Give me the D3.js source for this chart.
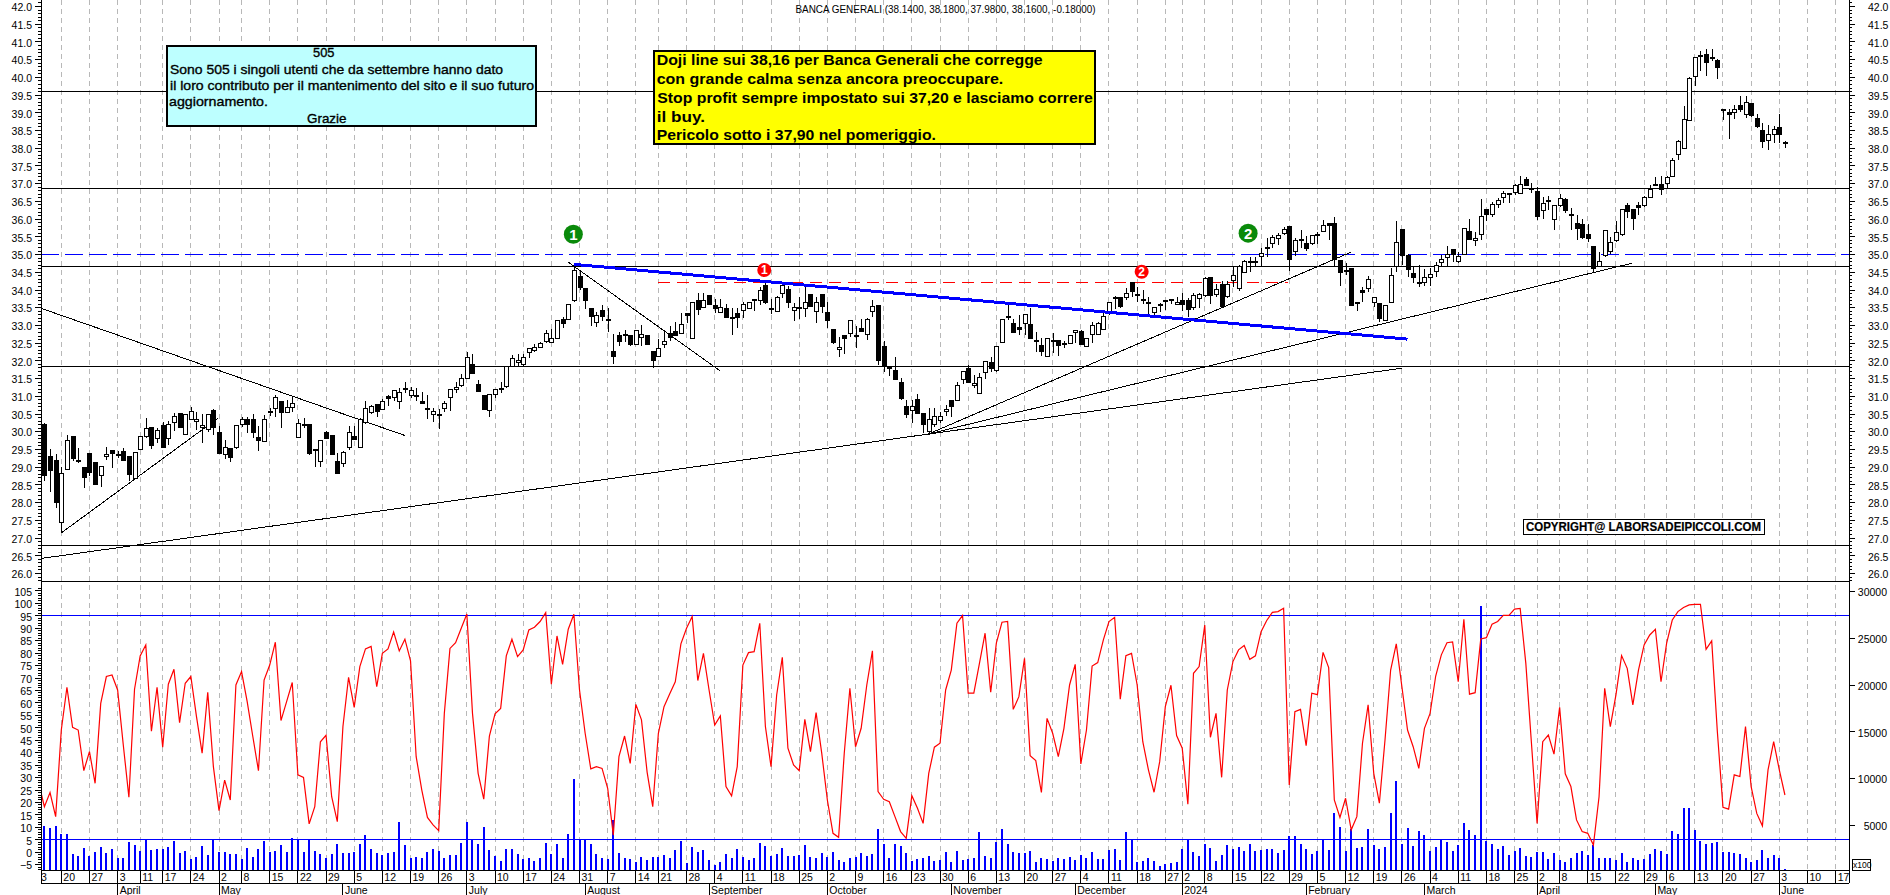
<!DOCTYPE html>
<html>
<head>
<meta charset="utf-8">
<title>Banca Generali</title>
<script src="https://cdn.jsdelivr.net/npm/d3@7"></script>
<style>
  html, body { margin: 0; padding: 0; background: #fff; overflow: hidden; }
  text { font-family: "Liberation Sans", Arial, sans-serif; fill: #000; }
</style>
</head>
<body>
<div id="chart"></div>
<script>
// first candle sits 3 sessions before Mar 20 2023 (session 0)
const firstSession = -3;

const opens = [
  30.2,29.3,29.18,27.43,28.93,29.84,29.18,28.99,29.38,29.11,
  28.76,29.29,29.46,29.35,29.44,29.29,28.68,29.49,29.86,30.11,
  29.8,30.17,29.8,30.24,30.51,29.92,30.34,30.27,30.1,30.06,
  30.58,29.96,29.35,29.51,29.54,30.18,30.34,30.34,29.83,29.72,
  30.56,30.65,30.85,30.53,30.68,29.82,30.2,30.18,29.49,29.15,
  29.97,29.89,29.15,29.1,29.55,29.86,29.55,30.25,30.53,30.75,
  30.62,30.98,30.95,30.83,31.22,31.01,31.0,30.85,30.65,30.48,
  30.48,30.65,30.95,31.18,31.28,31.5,31.88,31.33,31.0,30.58,
  31.04,31.22,31.26,31.84,31.93,31.89,32.22,32.27,32.37,32.53,
  32.5,32.62,33.14,33.14,33.68,34.36,34.03,33.45,33.06,33.42,
  33.14,32.26,32.69,32.74,32.71,32.45,32.65,32.69,32.26,32.1,
  32.44,32.76,32.82,32.76,33.31,32.61,33.69,33.49,33.82,33.55,
  33.35,33.47,33.22,33.33,33.41,33.47,33.71,33.69,34.12,33.47,
  33.38,33.89,33.99,33.41,33.48,33.47,33.86,33.38,33.86,33.36,
  32.87,32.31,32.69,32.76,32.71,32.9,32.73,33.38,33.54,32.38,
  31.82,31.71,31.38,30.71,30.58,30.91,30.51,29.99,30.2,30.3,
  30.55,30.88,30.88,31.47,31.78,31.28,31.07,31.66,31.94,31.72,
  32.51,33.25,33.05,32.94,33.05,33.02,32.55,32.42,32.12,32.55,
  32.57,32.49,32.48,32.78,32.82,32.4,32.74,32.72,32.87,33.37,
  33.78,33.78,33.77,34.19,33.85,33.72,33.63,33.35,33.57,33.7,
  33.72,33.58,33.68,33.7,33.5,33.75,33.83,34.34,33.87,34.13,
  33.8,34.25,34.03,34.48,34.79,34.79,34.93,35.19,35.3,35.44,
  35.59,35.78,35.07,35.42,35.3,35.3,35.54,35.63,35.87,35.87,
  34.83,34.55,34.6,33.64,33.96,34.04,33.64,33.6,33.12,33.64,
  34.66,35.7,34.97,34.46,34.2,34.19,34.34,34.5,34.77,34.91,
  35.13,34.79,34.99,35.65,35.38,35.54,36.26,36.12,36.4,36.6,
  36.71,36.73,36.71,37.09,36.85,36.76,36.23,36.5,35.98,36.36,
  36.55,36.13,35.87,35.84,35.56,35.21,34.65,34.97,35.07,35.38,
  35.54,36.37,36.26,36.37,36.37,36.6,36.96,36.97,36.99,37.18,
  37.8,37.98,38.77,40.02,40.6,40.62,40.55,40.45,39.09,39.0,
  39.0,39.2,38.95,39.25,38.83,38.48,38.2,38.37,38.58,38.14
];
const highs = [
  30.22,29.5,29.36,28.98,29.9,29.84,29.52,28.99,29.4,29.11,
  29.0,29.55,29.46,29.44,29.52,29.29,29.4,29.86,30.37,30.11,
  30.08,30.26,30.3,30.51,30.51,30.48,30.68,30.55,30.48,30.48,
  30.62,30.15,29.76,29.51,30.16,30.41,30.41,30.49,30.15,30.45,
  30.65,31.03,30.85,30.88,31.0,30.34,30.37,30.18,29.49,29.75,
  30.01,29.89,29.4,29.45,30.15,30.15,30.38,30.84,30.74,30.75,
  30.92,31.03,31.15,31.22,31.38,31.26,31.21,31.12,31.02,30.65,
  30.62,30.84,31.2,31.4,31.61,32.23,32.17,31.45,31.0,31.04,
  31.18,31.38,31.82,32.15,32.18,32.18,32.33,32.46,32.53,32.86,
  32.88,33.12,33.23,33.58,34.65,34.52,34.03,33.45,33.37,33.56,
  33.49,32.75,32.81,32.86,32.71,32.85,33.0,32.69,32.26,32.6,
  32.83,32.97,33.09,33.33,33.31,33.64,33.91,33.89,33.85,33.72,
  33.72,33.59,33.47,33.47,33.65,33.64,33.71,34.06,34.18,33.73,
  33.83,34.1,34.1,33.63,33.78,34.06,33.86,33.8,33.86,33.65,
  32.87,32.67,32.69,33.12,32.97,33.16,33.19,33.71,33.54,32.54,
  31.85,32.09,31.49,30.88,30.88,31.05,30.51,30.65,30.67,30.55,
  30.74,30.88,31.4,31.69,31.87,31.59,31.64,31.96,32.1,32.4,
  33.16,33.56,33.16,33.28,33.3,33.47,32.81,32.62,32.61,32.76,
  32.57,32.54,32.7,32.84,32.86,32.61,33.09,33.09,33.37,33.64,
  33.82,33.8,34.03,34.22,34.06,33.98,33.8,33.49,33.63,33.7,
  33.72,33.8,33.89,33.75,33.89,33.89,34.36,34.34,34.16,34.24,
  34.24,34.66,34.69,34.83,34.91,34.91,35.16,35.44,35.54,35.59,
  35.77,35.78,35.44,35.68,35.51,35.51,35.63,35.96,35.87,36.04,
  34.83,34.74,34.6,33.64,34.06,34.38,33.8,33.63,33.56,34.61,
  35.93,35.7,35.0,34.65,34.69,34.57,34.6,34.79,34.97,35.23,
  35.13,35.07,35.73,36.0,35.61,36.55,36.26,36.48,36.57,36.78,
  36.73,36.98,37.2,37.18,37.0,36.9,36.62,36.63,36.37,36.69,
  36.57,36.29,36.1,35.98,35.85,35.21,35.07,35.66,35.47,35.92,
  36.26,36.43,36.26,36.48,36.65,36.95,37.18,37.2,37.19,37.7,
  38.22,39.18,39.99,40.55,40.72,40.8,40.78,40.5,39.09,39.09,
  39.21,39.46,39.47,39.25,38.94,38.71,38.64,38.6,38.95,38.18
];
const lows = [
  28.6,28.28,27.83,27.14,28.93,29.17,29.1,28.41,28.74,28.5,
  28.44,29.19,28.97,29.24,29.17,28.6,28.65,29.49,29.8,29.5,
  29.68,29.54,29.61,30.0,30.1,29.92,30.34,30.04,29.68,29.99,
  29.9,29.35,29.23,29.13,29.5,30.13,29.96,29.82,29.43,29.72,
  30.43,30.41,30.1,30.51,30.53,29.82,30.1,29.33,29.0,29.0,
  29.8,29.34,28.81,29.0,29.47,29.76,29.55,30.21,30.49,30.39,
  30.62,30.7,30.84,30.63,31.07,30.93,30.86,30.79,30.35,30.27,
  30.07,30.53,30.58,31.07,31.26,31.47,31.64,31.12,30.6,30.41,
  30.93,31.09,31.21,31.84,31.84,31.85,32.06,32.25,32.37,32.5,
  32.48,32.62,32.9,33.14,33.65,34.0,33.45,32.97,32.95,33.12,
  32.81,31.9,32.4,32.53,32.41,32.45,32.41,32.44,31.78,32.1,
  32.34,32.56,32.71,32.76,33.06,32.61,33.28,33.49,33.58,33.33,
  33.33,33.21,32.73,32.9,33.19,33.47,33.39,33.56,33.59,33.31,
  33.38,33.77,33.47,33.12,33.17,33.23,33.52,33.06,33.33,32.92,
  32.45,32.1,32.18,32.65,32.34,32.81,32.58,33.21,31.87,31.68,
  31.55,31.45,30.88,30.38,30.22,30.51,29.96,29.9,30.13,30.24,
  30.44,30.41,30.88,31.32,31.35,31.21,31.04,31.47,31.68,31.68,
  32.51,33.14,32.76,32.72,32.72,32.59,32.25,32.12,32.12,32.2,
  32.12,32.34,32.48,32.48,32.42,32.4,32.48,32.72,32.86,33.28,
  33.44,33.47,33.69,33.8,33.66,33.59,33.3,33.28,33.37,33.42,
  33.58,33.58,33.4,33.23,33.42,33.47,33.8,33.59,33.78,33.53,
  33.75,34.08,33.97,34.46,34.48,34.63,34.65,34.91,35.16,35.26,
  35.54,34.53,34.95,35.16,35.1,35.26,35.28,35.63,35.4,34.66,
  34.1,34.41,33.54,33.4,33.66,33.94,33.52,33.09,33.1,33.64,
  34.5,34.69,34.34,34.18,34.06,34.1,34.1,34.36,34.65,34.65,
  34.79,34.76,34.99,35.4,35.24,35.4,35.94,36.05,36.29,36.43,
  36.45,36.67,36.71,36.94,36.71,35.96,35.98,36.23,35.68,36.34,
  36.15,35.68,35.4,35.43,35.34,34.46,34.65,34.93,35.0,35.35,
  35.5,36.01,35.68,36.1,36.34,36.57,36.92,36.67,36.85,37.18,
  37.65,37.98,38.77,39.74,40.17,40.02,40.45,39.94,38.78,38.25,
  38.8,39.02,38.83,38.88,38.55,37.98,37.94,38.13,38.13,37.98
];
const closes = [
  28.75,28.9,27.99,28.81,29.75,29.23,29.14,28.69,28.83,28.5,
  29.0,29.35,29.37,29.32,29.17,28.78,29.4,29.86,30.08,29.6,
  30.02,29.54,30.19,30.41,30.1,30.48,30.55,30.34,30.17,30.48,
  30.1,29.37,29.54,29.26,30.16,30.33,30.19,29.96,29.74,30.34,
  30.53,30.95,30.53,30.67,30.79,30.23,30.17,29.37,29.46,29.75,
  29.8,29.34,28.81,29.4,29.97,29.76,30.34,30.65,30.7,30.56,
  30.85,30.93,31.15,31.1,31.18,31.15,30.98,30.79,30.62,30.55,
  30.45,30.78,31.18,31.24,31.5,32.08,31.64,31.12,30.6,31.04,
  31.18,31.2,31.82,32.06,31.99,32.08,32.33,32.37,32.48,32.75,
  32.62,33.12,33.05,33.58,34.55,34.05,33.68,33.25,33.28,33.25,
  33.12,32.1,32.53,32.71,32.45,32.85,32.74,32.44,32.01,32.33,
  32.54,32.65,32.71,33.0,33.27,33.64,33.43,33.69,33.58,33.45,
  33.5,33.21,33.19,33.21,33.58,33.64,33.69,33.97,33.64,33.45,
  33.77,34.1,33.63,33.5,33.46,33.63,33.52,33.64,33.52,33.12,
  32.5,32.37,32.62,33.12,32.69,32.81,33.14,33.52,32.01,31.82,
  31.78,31.46,30.92,30.46,30.71,30.51,30.18,30.32,30.43,30.43,
  30.62,30.71,31.28,31.69,31.37,31.35,31.52,31.96,31.78,32.4,
  33.16,33.23,32.78,32.86,33.3,32.61,32.53,32.25,32.61,32.52,
  32.41,32.47,32.7,32.84,32.44,32.61,32.99,33.03,33.25,33.64,
  33.75,33.53,33.89,33.94,33.83,33.7,33.61,33.49,33.55,33.67,
  33.69,33.63,33.59,33.44,33.82,33.85,34.3,33.83,33.99,33.53,
  34.15,34.39,34.66,34.79,34.77,34.77,35.02,35.16,35.47,35.51,
  35.7,34.85,35.39,35.38,35.17,35.51,35.51,35.81,35.82,34.86,
  34.48,34.53,33.56,33.61,33.92,34.29,33.78,33.17,33.56,34.39,
  35.33,34.97,34.57,34.33,34.17,34.34,34.43,34.67,34.85,34.99,
  34.99,34.93,35.73,35.42,35.45,36.05,36.12,36.4,36.51,36.71,
  36.69,36.94,36.96,36.94,36.83,36.06,36.43,36.48,36.37,36.56,
  36.23,36.1,35.73,35.46,35.45,34.6,34.79,35.66,35.33,35.6,
  36.26,36.2,36.0,36.31,36.59,36.83,36.94,36.83,37.17,37.64,
  38.19,38.8,39.96,40.55,40.58,40.41,40.53,40.26,39.07,38.94,
  39.09,39.07,39.27,38.9,38.6,38.17,38.36,38.52,38.36,38.16
];

// oscillator starts one session earlier, that point is clipped by the axis
const oscFirstSession = -4;
const oscValues = [
  27.5,18.1,23.8,14.1,48.9,66.1,50,48.9,32.6,40.2,
  27.5,59.6,70.4,71,65,43,21.9,65.3,78.7,83.1,
  48.4,66.1,42,67.3,73.3,51.9,67.7,70.4,54.3,39.6,
  64.1,34.2,16.5,28.8,20.8,67,72.4,60.3,46.3,32.6,
  69,75,84.2,52.7,60.3,68,30.9,29.9,11.2,18.1,
  44.2,46.8,22.1,12.1,50.3,70.1,58,74.4,81.5,82.5,
  66.3,79.7,81.5,88.3,80.7,85.4,76.7,38.2,24.8,13.8,
  10.8,8.5,55.6,81.7,84,89.8,95.5,55.6,31.5,21.1,
  46.5,55.4,57.6,78.7,85.4,78.4,81.1,89.1,90.2,92.5,
  96.1,67.3,86.7,75.3,89.4,95.4,65,47.6,33.3,34.2,
  33.5,25.5,6.7,38.2,46.5,35.5,59.2,53,32,18.1,
  47.6,58.3,63.4,68.3,83.5,89.8,94.5,68.8,79.7,65,
  50.9,54.6,26.2,22.5,34.2,75,80,80.4,91.8,50.3,
  34.2,63,78.1,41.6,34.9,32.6,53.2,40.2,55.9,39.6,
  20.8,7.4,5.8,39.6,65.7,42.2,49.6,67,80.7,24.2,
  21.1,20.1,14.1,8.1,5.4,22.5,17.5,11.4,31.5,42,
  43.6,65,73,91.8,94.9,63.7,63.7,75.7,87.8,64.1,
  83.8,92.2,92.5,57.2,62.3,77.7,38.6,36.6,23.8,53.6,
  47.6,38.2,49.6,67,75.3,35.3,48.9,74.6,76,85.1,
  92.5,94.2,61.3,78.8,79.7,67,44.2,32.9,23.9,36.2,
  58.3,66.9,46.7,41.6,19.1,71.7,74.4,91.1,46,55.6,
  29.9,65,76.4,81.1,82.9,77.3,78.7,88.4,92.9,96.2,
  96.5,97.8,26.8,56.3,57.2,42.6,63.7,63.1,80.1,74,
  20.8,13.8,21.5,8.8,14.1,43.6,59,31.5,19.5,44.9,
  73,83.5,66.3,48.9,42.2,33.5,49.6,55.6,70.6,79.1,
  84,84.3,68.3,93.4,63.3,63.9,85.5,86,91.4,92.5,
  95,95,97.5,97.8,75.7,43.6,11.4,44.2,46.9,39.2,
  58,31.3,26.2,12.8,8.1,7.4,2.7,22.1,65.7,50.3,
  63,78.8,73.7,59,73,83.1,87.1,89.4,68.3,83.8,
  93.1,96.5,98.1,99.2,99.4,99.4,81.3,84.7,48.3,17.9,
  17.1,30.9,30.2,50.3,26.2,15.4,10.4,32.9,44.2,32.9,22.8
];

const volumes = [
  4890,4640,4890,4040,4040,1870,1690,2540,1690,2080,
  2610,1970,2440,1440,1480,3220,2860,2260,3400,2330,
  2400,2400,2610,3260,2010,2260,1330,1620,2720,1800,
  3500,2120,2120,1870,1870,1330,2540,1620,2400,3260,
  2120,2260,2830,2080,3610,3470,2120,3360,2190,1870,
  1510,1870,2930,2010,1970,2080,2970,3900,2440,1970,
  1800,1970,2080,5320,2860,1480,1580,1480,2080,2440,
  2220,1480,1760,1760,3080,5320,3400,2970,4790,2290,
  1690,1120,2400,2440,1870,1330,1440,1190,1480,3080,
  1870,2970,1480,4000,9910,3470,3470,2970,1870,1440,
  1330,5530,2010,1480,1370,1010,1550,1260,1580,1550,
  1760,1440,2330,3260,940,2650,2080,2290,1230,730,
  1050,1870,1440,2400,1580,1260,1440,3040,2790,1690,
  1870,2540,1690,1690,1760,2830,1580,1480,2010,1550,
  2120,1260,1010,1480,1550,2010,1690,1870,4570,2930,
  1480,2970,2790,1970,1160,1330,1440,1690,1160,1230,
  2080,1050,2190,1230,1330,1480,4250,1690,1440,3150,
  4570,2930,2120,1970,1970,2190,1010,1440,1370,1120,
  1440,1330,1580,1260,1760,1440,2120,1370,1330,2290,
  2440,1260,4220,3400,1050,1160,1440,1120,660,840,
  910,1010,2400,3360,2120,1650,2930,2540,1160,1760,
  2830,2440,2610,2220,2930,2190,2330,2440,2400,1970,
  2290,3830,3790,2930,2400,1870,2220,3470,2290,6280,
  4750,2190,4540,2540,2610,4540,2830,2440,2650,6250,
  9700,2970,4680,2720,4320,3930,2220,2610,3400,3150,
  2220,2830,5250,4430,3900,28400,3330,2930,2400,2720,
  1760,2190,2540,1690,1580,2150,2120,1330,1970,1260,
  1050,1440,1970,2190,1760,2860,1440,1480,1480,1260,
  1970,1010,1440,1260,1330,1870,2400,2220,1900,4320,
  4040,6820,6820,4430,3260,2930,3040,3150,2080,2120,
  1970,1870,1440,1010,1260,2290,1440,1760,1440,300
];

// weekly date labels and the session each one falls on
const weekLabels = ["13","20","27","3","11","17","24","2","8","15","22","29","5","12","19","26","3","10","17","24","31","7","14","21","28","4","11","18","25","2","9","16","23","30","6","13","20","27","4","11","18","27","2","8","15","22","29","5","12","19","26","4","11","18","25","2","8","15","22","29","6","13","20","27","3","10","17"];
const weekSessions = [-5,0,5,10,14,18,23,28,32,37,42,47,52,57,62,67,72,77,82,87,92,97,102,106,111,116,121,126,131,136,141,146,151,156,161,166,171,176,181,186,191,196,199,203,208,213,218,223,228,233,238,243,248,253,258,262,266,271,276,281,285,290,295,300,305,310,315];
const monthLabels = ["April","May","June","July","August","September","October","November","December","2024","February","March","April","May","June"];
const monthSessions = [10,28,50,72,93,115,136,158,180,199,221,242,262,283,305];

// horizontal levels on the price pane
const supportLevels = [39.6, 36.84, 34.65, 31.83, 26.79];
const dashedLevel = 35.0;
const oscLevels = [95, 5];

// hand drawn lines: [session, price, session, price]
const trendLines = [
  [-3.6, 33.47, 61, 29.88],
  [0.07, 27.14, 27.9, 30.38],
  [-3.6, 26.41, 153.9, 29.92],
  [153.9, 29.92, 228.9, 35.05],
  [153.9, 29.92, 278.8, 34.74],
  [153.9, 29.92, 238, 31.78],
  [90, 34.77, 116.9, 31.71]
];
const blueLine = [91, 34.71, 239, 32.6];
const redDash = [105.9, 34.2, 217.8, 34.2];
// numbered circles: [session, price, label]
const greenMarks = [[90.9, 35.56, "1"], [210.7, 35.59, "2"]];
const redMarks = [[124.8, 34.55, "1"], [191.8, 34.5, "2"]];

const titleText = "BANCA GENERALI (38.1400, 38.1800, 37.9800, 38.1600, -0.18000)";
const infoLines = ["505", "Sono 505 i singoli utenti che da settembre hanno dato", "il loro contributo per il mantenimento del sito e il suo futuro", "aggiornamento.", "Grazie"];
const noteLines = ["Doji line sui 38,16 per Banca Generali che corregge", "con grande calma senza ancora preoccupare.", "Stop profit sempre impostato sui 37,20 e lasciamo correre", "il buy.", "Pericolo sotto i 37,90 nel pomeriggio."];
const copyrightText = "COPYRIGHT@ LABORSADEIPICCOLI.COM";

const width = 1890, height = 895;
const left = 41, right = 1849, plotBottom = 870, paneSplit = 581, dateLine = 883;

const x = d3.scaleLinear().domain([0, 305]).range([61.3, 1779.3]);
const yPrice = d3.scaleLinear().domain([42, 26]).range([6, 573]);
const yOsc = d3.scaleLinear().domain([95, 5]).range([615.3, 839.3]);
const yVol = d3.scaleLinear().domain([0, 30000]).range([871.8, 591]);

const svg = d3.select("#chart").append("svg")
  .attr("width", width).attr("height", height)
  .style("display", "block");

const defs = svg.append("defs");
defs.append("clipPath").attr("id", "plot-clip").append("rect")
  .attr("x", left).attr("y", 0).attr("width", right - left).attr("height", plotBottom);
defs.append("clipPath").attr("id", "date-clip").append("rect")
  .attr("x", left).attr("y", plotBottom).attr("width", right - left).attr("height", height - plotBottom);

const plot = svg.append("g").attr("clip-path", "url(#plot-clip)").attr("shape-rendering", "crispEdges");

// weekly grid
plot.selectAll(".grid").data(weekSessions).enter().append("line")
  .attr("x1", d => x(d)).attr("x2", d => x(d))
  .attr("y1", 0).attr("y2", plotBottom)
  .attr("stroke", "#b8b8b8").attr("stroke-dasharray", "5,4");

// price levels
plot.selectAll(".level").data(supportLevels).enter().append("line")
  .attr("x1", left).attr("x2", right)
  .attr("y1", d => yPrice(d)).attr("y2", d => yPrice(d))
  .attr("stroke", "#000");
plot.append("line")
  .attr("x1", left).attr("x2", right)
  .attr("y1", yPrice(dashedLevel)).attr("y2", yPrice(dashedLevel))
  .attr("stroke", "#0000ff").attr("stroke-dasharray", "18,6");
plot.append("line")
  .attr("x1", left).attr("x2", right)
  .attr("y1", paneSplit).attr("y2", paneSplit)
  .attr("stroke", "#000");

// trend lines
plot.selectAll(".trend").data(trendLines).enter().append("line")
  .attr("x1", d => x(d[0])).attr("y1", d => yPrice(d[1]))
  .attr("x2", d => x(d[2])).attr("y2", d => yPrice(d[3]))
  .attr("stroke", "#000");
plot.append("line")
  .attr("x1", x(redDash[0])).attr("y1", yPrice(redDash[1]))
  .attr("x2", x(redDash[2])).attr("y2", yPrice(redDash[3]))
  .attr("stroke", "#ff0000").attr("stroke-dasharray", "12,7");

// candles
const candles = opens.map((o, i) => ({
  session: firstSession + i, open: o, high: highs[i], low: lows[i], close: closes[i]
}));
const candle = plot.selectAll(".candle").data(candles).enter().append("g");
candle.append("line")
  .attr("x1", d => Math.round(x(d.session)) + 0.5).attr("x2", d => Math.round(x(d.session)) + 0.5)
  .attr("y1", d => yPrice(d.high)).attr("y2", d => yPrice(d.low))
  .attr("stroke", "#000");
candle.append("rect")
  .attr("x", d => Math.round(x(d.session)) - 1.5)
  .attr("width", 4)
  .attr("y", d => yPrice(Math.max(d.open, d.close)))
  .attr("height", d => Math.max(1, Math.abs(yPrice(d.open) - yPrice(d.close))))
  .attr("fill", d => d.close >= d.open ? "#fff" : "#000")
  .attr("stroke", "#000");

// the thick blue line runs above the candles
plot.append("line")
  .attr("x1", x(blueLine[0])).attr("y1", yPrice(blueLine[1]))
  .attr("x2", x(blueLine[2])).attr("y2", yPrice(blueLine[3]))
  .attr("stroke", "#0000ff").attr("stroke-width", 3);

// volume bars
plot.selectAll(".vol").data(volumes).enter().append("rect")
  .attr("x", (d, i) => Math.round(x(firstSession + i)) - 1)
  .attr("width", 2)
  .attr("y", d => yVol(d))
  .attr("height", d => Math.max(0, plotBottom - yVol(d)))
  .attr("fill", "#0000ff");

// oscillator levels and line
plot.selectAll(".osc-level").data(oscLevels).enter().append("line")
  .attr("x1", left).attr("x2", right)
  .attr("y1", d => yOsc(d)).attr("y2", d => yOsc(d))
  .attr("stroke", "#0000ff");
const oscLine = d3.line()
  .x((d, i) => x(oscFirstSession + i))
  .y(d => yOsc(d));
plot.append("path").datum(oscValues)
  .attr("d", oscLine)
  .attr("fill", "none").attr("stroke", "#ff0000").attr("stroke-width", 1.2)
  .attr("shape-rendering", "auto");

// numbered circles
function addMarks(data, r, color, size) {
  const g = svg.selectAll(null).data(data).enter().append("g")
    .attr("transform", d => `translate(${x(d[0])},${yPrice(d[1])})`);
  g.append("circle").attr("r", r).attr("fill", color);
  g.append("text").text(d => d[2])
    .attr("text-anchor", "middle").attr("dy", "0.36em")
    .attr("font-size", size).attr("font-weight", "bold")
    .style("fill", "#fff");
}
addMarks(greenMarks, 9.5, "#0a8a0a", 15);
addMarks(redMarks, 7, "#ff0000", 12);

// price axes, both sides
const priceMajor = d3.range(26, 42.01, 0.5);
const priceMinor = d3.range(25.8, 42.15, 0.1);
const oscMajor = d3.range(-5, 105.1, 5);
const oscMinor = d3.range(-7, 107, 1);

function drawAxis(axisFn, pos, scale, major, minor, fmt) {
  const g = svg.append("g").attr("transform", `translate(${pos},0)`);
  if (minor) {
    g.append("g").attr("shape-rendering", "crispEdges")
      .call(axisFn(scale).tickValues(minor).tickSize(3).tickFormat(""))
      .call(a => a.select(".domain").remove());
  }
  const main = g.append("g")
    .call(axisFn(scale).tickValues(major).tickSize(6).tickPadding(3).tickFormat(fmt))
    .call(a => a.select(".domain").remove());
  main.selectAll("line").attr("shape-rendering", "crispEdges");
  main.selectAll("text")
    .attr("font-size", 10.5).attr("dy", "0.45em")
    .attr("font-family", "Liberation Sans")
    .style("fill", "#000");
  return g;
}
const fmtPrice = d3.format(".1f");
drawAxis(d3.axisLeft, left, yPrice, priceMajor, priceMinor, fmtPrice);
drawAxis(d3.axisRight, right, yPrice, priceMajor, priceMinor, fmtPrice)
  .selectAll("text").attr("x", 19);
drawAxis(d3.axisLeft, left, yOsc, oscMajor, oscMinor, d3.format("d"));
drawAxis(d3.axisRight, right, yVol, d3.range(5000, 30001, 5000), null, d3.format("d"))
  .selectAll("text").attr("x", 38).attr("text-anchor", "end");
svg.selectAll(null).data([left, right]).enter().append("line")
  .attr("x1", d => d).attr("x2", d => d)
  .attr("y1", 0).attr("y2", dateLine)
  .attr("stroke", "#000").attr("shape-rendering", "crispEdges");

// date rows under the plot
const dates = svg.append("g").attr("clip-path", "url(#date-clip)");
dates.selectAll(".row").data([plotBottom, dateLine]).enter().append("line")
  .attr("x1", left).attr("x2", right)
  .attr("y1", d => d).attr("y2", d => d)
  .attr("stroke", "#000").attr("shape-rendering", "crispEdges");
dates.selectAll(".week").data(weekSessions).enter().append("line")
  .attr("x1", d => x(d)).attr("x2", d => x(d))
  .attr("y1", plotBottom).attr("y2", dateLine)
  .attr("stroke", "#000").attr("shape-rendering", "crispEdges");
dates.selectAll(".week-label").data(weekLabels).enter().append("text")
  .text(d => d)
  .attr("x", (d, i) => x(weekSessions[i]) + 2)
  .attr("y", 881).attr("font-size", 10.5);
dates.selectAll(".month").data(monthSessions).enter().append("line")
  .attr("x1", d => x(d)).attr("x2", d => x(d))
  .attr("y1", dateLine).attr("y2", height)
  .attr("stroke", "#000").attr("shape-rendering", "crispEdges");
dates.selectAll(".month-label").data(monthLabels).enter().append("text")
  .text(d => d)
  .attr("x", (d, i) => x(monthSessions[i]) + 2)
  .attr("y", 894).attr("font-size", 10.5);

// x100 tag for the volume scale
svg.append("rect")
  .attr("x", 1852).attr("y", 859).attr("width", 18).attr("height", 11)
  .attr("fill", "#fff").attr("stroke", "#000").attr("shape-rendering", "crispEdges");
svg.append("text").text("x100")
  .attr("x", 1853).attr("y", 868).attr("font-size", 8.5);

// title
svg.append("text").text(titleText)
  .attr("x", 795.5).attr("y", 12.5)
  .attr("font-size", 10.5)
  .attr("textLength", 300).attr("lengthAdjust", "spacingAndGlyphs");

// text boxes drawn over the chart
function addBox(bx, by, bw, bh, fill, strokeWidth) {
  svg.append("rect")
    .attr("x", bx).attr("y", by).attr("width", bw).attr("height", bh)
    .attr("fill", fill).attr("stroke", "#000").attr("stroke-width", strokeWidth)
    .attr("shape-rendering", "crispEdges");
}
function addBoxText(lines, xs, ys, lengths, size, weight, thicken) {
  svg.selectAll(null).data(lines).enter().append("text")
    .text(d => d)
    .attr("x", (d, i) => xs[i]).attr("y", (d, i) => ys[i])
    .attr("font-size", size).attr("font-weight", weight)
    .attr("stroke", "#000").attr("stroke-width", thicken)
    .attr("textLength", (d, i) => lengths[i])
    .attr("lengthAdjust", "spacingAndGlyphs");
}

addBox(167, 45.5, 369, 80.5, "#bdffff", 2);
addBoxText(infoLines,
  [313, 170, 170, 169, 307],
  [57, 74, 90, 106, 123],
  [21.5, 333, 364, 99, 39.5],
  13.5, "normal", 0.35);

addBox(654, 50.5, 441, 93.5, "#ffff00", 2);
addBoxText(noteLines,
  [656.7, 656.7, 657.3, 656.7, 656.7],
  [65, 84, 102.7, 121.7, 140],
  [386, 346.6, 435.4, 48.3, 279.3],
  15.5, "bold", 0);

addBox(1523.5, 519.5, 241, 14.5, "#fff", 1);
addBoxText([copyrightText], [1526], [531], [235], 12, "bold", 0.2);
</script>
</body>
</html>
